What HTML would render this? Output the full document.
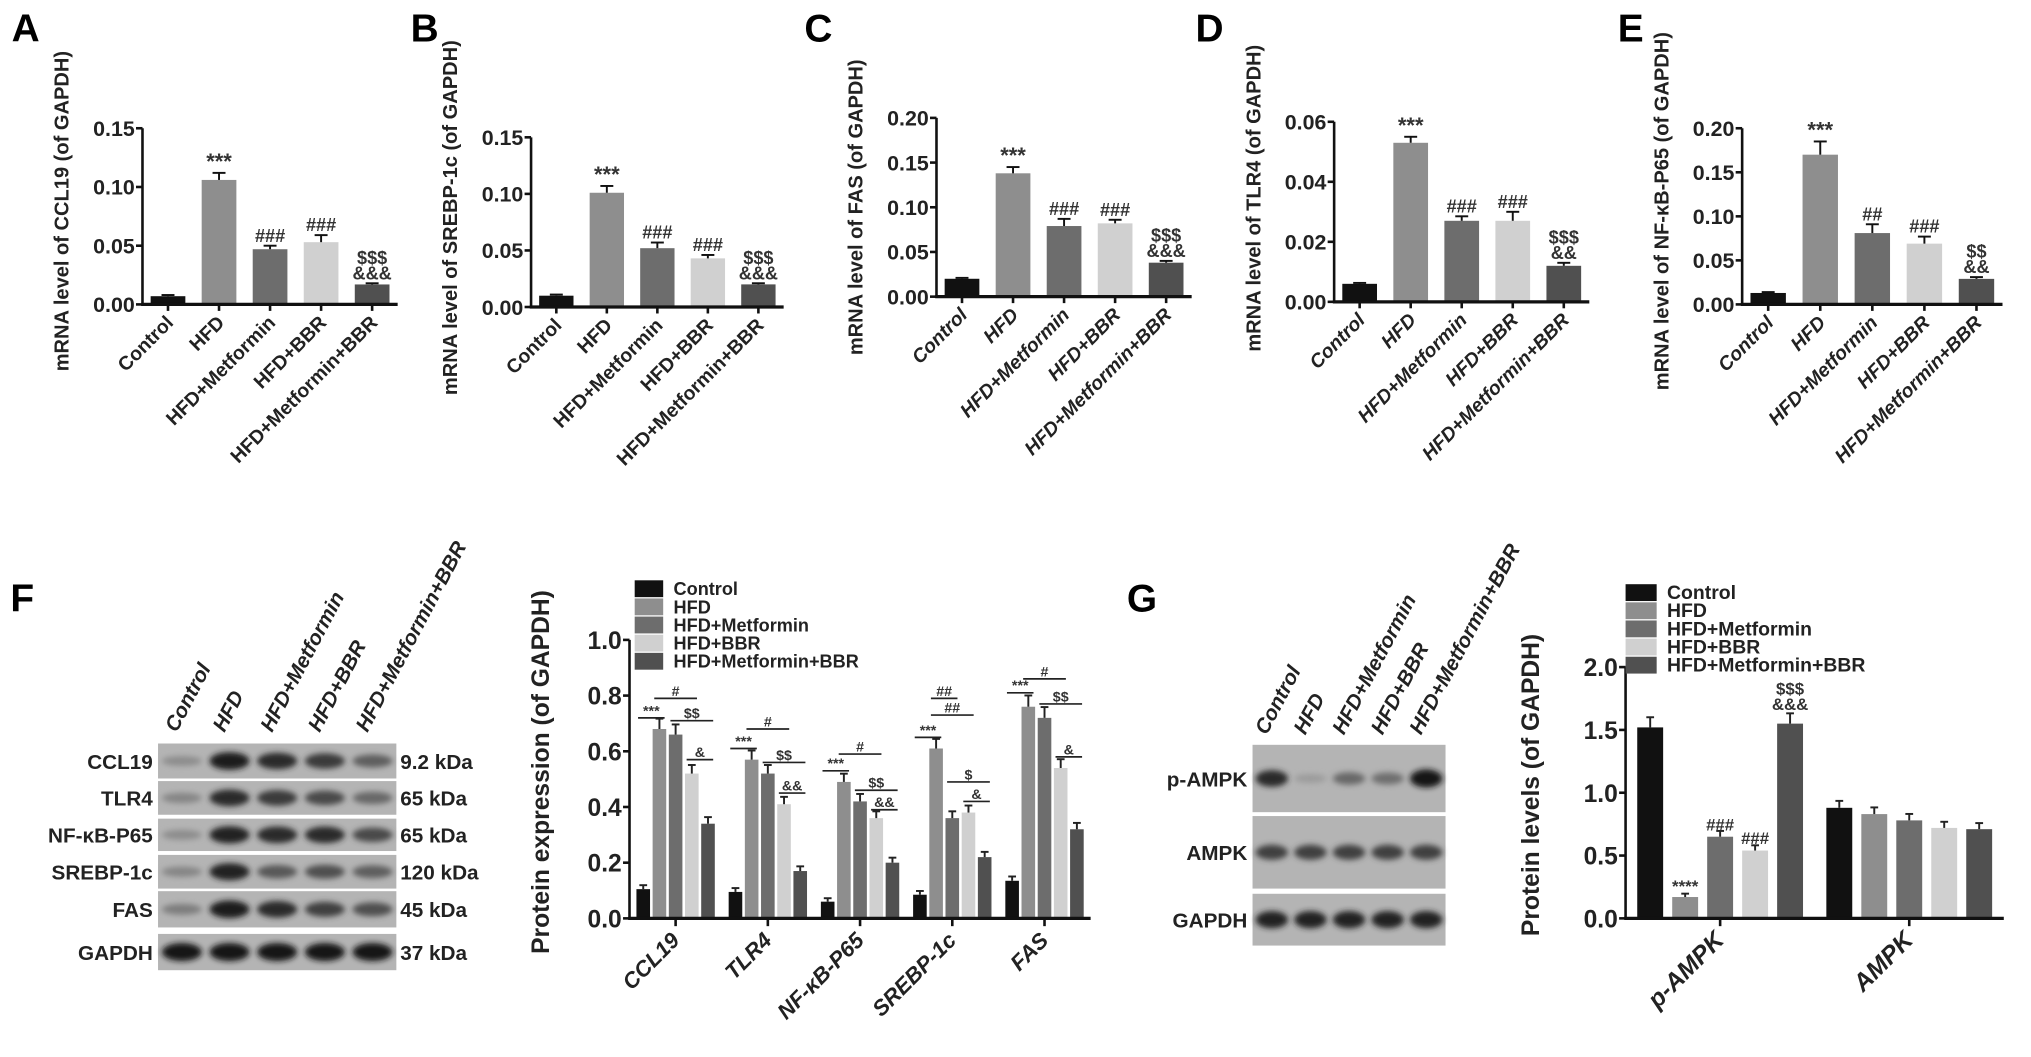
<!DOCTYPE html>
<html><head><meta charset="utf-8"><style>
html,body{margin:0;padding:0;background:#fff;}
svg{display:block;font-family:"Liberation Sans",Arial,sans-serif;font-weight:bold;}
</style></head><body>
<svg id="fig" width="2031" height="1057" viewBox="0 0 1568 816" xmlns="http://www.w3.org/2000/svg">
<defs><filter id="blur" x="-30%" y="-80%" width="160%" height="260%"><feGaussianBlur stdDeviation="2.2"/></filter></defs>
</svg>
<script>
const groups = ["Control","HFD","HFD+Metformin","HFD+BBR","HFD+Metformin+BBR"];
const colors = ["#111111","#8e8e8e","#6d6d6d","#d0d0d0","#505050"];
const valsA = [0.007,0.106,0.047,0.053,0.017];
const errA  = [0.001,0.006,0.003,0.006,0.001];
const valsB = [0.010,0.101,0.052,0.043,0.020];
const errB  = [0.001,0.006,0.005,0.003,0.001];
const valsC = [0.020,0.138,0.079,0.082,0.038];
const errC  = [0.001,0.007,0.008,0.004,0.002];
const valsD = [0.006,0.053,0.027,0.027,0.012];
const errD  = [0.0003,0.002,0.0015,0.003,0.001];
const valsE = [0.013,0.170,0.081,0.069,0.029];
const errE  = [0.001,0.015,0.010,0.008,0.002];
const annA = ["","***","###","###","$$$\n&&&"];
const annB = ["","***","###","###","$$$\n&&&"];
const annC = ["","***","###","###","$$$\n&&&"];
const annD = ["","***","###","###","$$$\n&&"];
const annE = ["","***","##","###","$$\n&&"];
const ticksA = [0,0.05,0.10,0.15];
const ticksB = [0,0.05,0.10,0.15];
const ticksC = [0,0.05,0.10,0.15,0.20];
const ticksD = [0,0.02,0.04,0.06];
const ticksE = [0,0.05,0.10,0.15,0.20];
const catsF = ["CCL19","TLR4","NF-\u03BAB-P65","SREBP-1c","FAS"];
const fControl = [0.105,0.095,0.060,0.085,0.135];
const fHFD     = [0.68,0.57,0.49,0.61,0.76];
const fMet     = [0.66,0.52,0.42,0.36,0.72];
const fBBR     = [0.52,0.41,0.36,0.38,0.54];
const fCombo   = [0.34,0.17,0.20,0.22,0.32];
const ticksF = [0,0.2,0.4,0.6,0.8,1.0];
const catsG = ["p-AMPK","AMPK"];
const gControl = [1.52,0.88];
const gHFD     = [0.17,0.83];
const gMet     = [0.65,0.78];
const gBBR     = [0.54,0.72];
const gCombo   = [1.55,0.71];
const ticksG = [0,0.5,1.0,1.5,2.0];

const svg = document.getElementById('fig');
const NS = "http://www.w3.org/2000/svg";
function mk(tag, attrs, parent){
  const e = document.createElementNS(NS, tag);
  for (const k in attrs) e.setAttribute(k, attrs[k]);
  (parent||svg).appendChild(e);
  return e;
}
function txt(s, x, y, size, anchor, parent, extra){
  const t = mk('text', Object.assign({x:x, y:y, 'font-size':size, 'text-anchor':anchor||'start'}, extra||{}), parent);
  t.textContent = s;
  return t;
}

function mrnaPanel(id, letter, lx, x0, x1, y0, ymax, ytopPx, ticks, vals, errs, anns, title, titleY, italic){
  const g = mk('g', {});
  
  
  const L = txt(letter, lx, 32, 30, 'start', g);
  
  
  const ys = v => y0 - (v / ymax) * (y0 - ytopPx);
  const n = vals.length, sp = (x1 - x0) / n, bw = sp * 0.68;
  for (let i = 0; i < n; i++){
    const cx = x0 + sp * (i + 0.5);
    const b = mk('rect', {x: cx - bw/2, y: ys(vals[i]), width: bw, height: y0 - ys(vals[i]), fill: colors[i]}, g);
    
    
    const et = ys(vals[i] + errs[i]);
    mk('line', {x1: cx, x2: cx, y1: ys(vals[i]), y2: et, stroke: '#111', 'stroke-width': 1.5}, g);
    mk('line', {x1: cx - 5, x2: cx + 5, y1: et, y2: et, stroke: '#111', 'stroke-width': 1.5}, g);
    if (anns[i]){
      const lines = anns[i].split('\n');
      lines.forEach((s, k) => {
        const a = txt(s, cx, et - 3 - (lines.length - 1 - k) * 12, s[0]==='*' ? 17 : 14, 'middle', g, {fill:'#333'});
        
        
      });
    }
    mk('line', {x1: cx, x2: cx, y1: y0, y2: y0 + 5, stroke: '#111', 'stroke-width': 2}, g);
    const xl = txt(groups[i], cx + 5, y0 + 15, 15, 'end', g, {transform: 'rotate(-45 ' + (cx + 5) + ' ' + (y0 + 15) + ')', 'font-style': italic ? 'italic' : 'normal', fill:'#222'});
    
    
  }
  mk('line', {x1: x0, x2: x0, y1: ytopPx, y2: y0 + 1, stroke: '#111', 'stroke-width': 2}, g);
  mk('line', {x1: x0 - 1, x2: x1, y1: y0, y2: y0, stroke: '#111', 'stroke-width': 2.5}, g);
  ticks.forEach(t => {
    const y = ys(t);
    mk('line', {x1: x0 - 5, x2: x0, y1: y, y2: y, stroke: '#111', 'stroke-width': 2}, g);
    const tl = txt(t.toFixed(2), x0 - 6, y + 6, 16.5, 'end', g, {fill:'#222'});
    
    
  });
  const tx = x0 - 57;
  const yt = txt(title, tx, titleY, 15.5, 'middle', g, {transform: 'rotate(-90 ' + tx + ' ' + titleY + ')', fill:'#222'});
  
  
}

mrnaPanel('a','A',9,110,307,235,0.15,99,ticksA,valsA,errA,annA,'mRNA level of CCL19 (of GAPDH)',163,false);
mrnaPanel('b','B',317,410,605,237,0.15,106,ticksB,valsB,errB,annB,'mRNA level of SREBP-1c (of GAPDH)',168,false);
mrnaPanel('c','C',621,723,920,229,0.20,91,ticksC,valsC,errC,annC,'mRNA level of FAS (of GAPDH)',160,true);
mrnaPanel('d','D',923,1030,1227,233,0.06,94,ticksD,valsD,errD,annD,'mRNA level of TLR4 (of GAPDH)',153,true);
mrnaPanel('e','E',1249,1345,1546,235,0.20,99,ticksE,valsE,errE,annE,'mRNA level of NF-\u03BAB-P65 (of GAPDH)',163,true);

function groupedChart(id, x0, x1, y0, ymax, ytopPx, ticks, cats, series, bw, step, title, titleX, titleY, legX, legY, legStep, legSw, legFont, xlabFont){
  const g = mk('g', {});
  
  
  const ys = v => y0 - (v / ymax) * (y0 - ytopPx);
  const n = cats.length, sp = (x1 - x0) / n;
  for (let c = 0; c < n; c++){
    const gc = x0 + sp * (c + 0.5);
    for (let s = 0; s < series.length; s++){
      const cx = gc + (s - 2) * step;
      const v = series[s][c];
      const b = mk('rect', {x: cx - bw/2, y: ys(v), width: bw, height: y0 - ys(v), fill: colors[s]}, g);
      
      
      const et = ys(v * 1.04 + 0.01 * ymax);
      mk('line', {x1: cx, x2: cx, y1: ys(v), y2: et, stroke: '#222', 'stroke-width': 1.5}, g);
      mk('line', {x1: cx - 3, x2: cx + 3, y1: et, y2: et, stroke: '#222', 'stroke-width': 1.5}, g);
    }
    mk('line', {x1: gc, x2: gc, y1: y0, y2: y0 + 6, stroke: '#111', 'stroke-width': 2}, g);
    const xl = txt(cats[c], gc + 4, y0 + 18, xlabFont, 'end', g, {transform: 'rotate(-45 ' + (gc + 4) + ' ' + (y0 + 18) + ')', 'font-style': 'italic', fill:'#222'});
    
    
  }
  mk('line', {x1: x0, x2: x0, y1: ytopPx, y2: y0 + 1, stroke: '#111', 'stroke-width': 2}, g);
  mk('line', {x1: x0 - 1, x2: x1, y1: y0, y2: y0, stroke: '#111', 'stroke-width': 2.5}, g);
  ticks.forEach(t => {
    const y = ys(t);
    mk('line', {x1: x0 - 5, x2: x0, y1: y, y2: y, stroke: '#111', 'stroke-width': 2}, g);
    const tl = txt(t.toFixed(1), x0 - 6, y + 7, 19, 'end', g, {fill:'#222'});
    
    
  });
  const yt = txt(title, titleX, titleY, 19, 'middle', g, {transform: 'rotate(-90 ' + titleX + ' ' + titleY + ')', fill:'#222'});
  
  
  const lg = mk('g', {}, g);
  
  
  groups.forEach((name, i) => {
    const y = legY + i * legStep;
    const sw = mk('rect', {x: legX, y: y, width: legSw, height: legStep - 1, fill: colors[i]}, lg);
    
    
    const lt = txt(name, legX + legSw + 8, y + legStep - 2.5, legFont, 'start', lg, {fill:'#222'});
    
    
  });
  return {g, ys, sp};
}

const F = groupedChart('f', 486, 842, 709, 1.0, 494, ticksF, catsF, [fControl,fHFD,fMet,fBBR,fCombo], 10.5, 12.5, 'Protein expression (of GAPDH)', 424, 596, 490, 448, 14, 22, 14, 17);
const fSig = [["***",0,1,0.72],["#",1,3,0.79],["$$",2,4,0.71],["&",3,4,0.57],
              ["***",0,1,0.61],["#",1,3,0.68],["$$",2,4,0.56],["&&",3,4,0.45],
              ["***",0,1,0.53],["#",1,3,0.59],["$$",2,4,0.46],["&&",3,4,0.39],
              ["***",0,1,0.65],["##",1,3,0.73],["##",1,2,0.79],["$",2,4,0.49],["&",3,4,0.42],
              ["***",0,1,0.81],["#",1,3,0.86],["$$",2,4,0.77],["&",3,4,0.58]];
const fSigGroup = [0,0,0,0,1,1,1,1,2,2,2,2,3,3,3,3,3,4,4,4,4];
fSig.forEach((s, k) => {
  const gc = 486 + F.sp * (fSigGroup[k] + 0.5);
  const xa = gc + (s[1] - 2) * 12.5 - 4, xb = gc + (s[2] - 2) * 12.5 + 4;
  const y = F.ys(s[3]);
  mk('line', {x1: xa, x2: xb, y1: y, y2: y, stroke: '#222', 'stroke-width': 1.3}, F.g);
  const t = txt(s[0], (xa + xb) / 2, y - 2, 11, 'middle', F.g, {fill:'#333'});
  
  
});

const G = groupedChart('g', 1255, 1547, 709, 2.0, 515, ticksG, catsG, [gControl,gHFD,gMet,gBBR,gCombo], 20, 27, 'Protein levels (of GAPDH)', 1188, 606, 1255, 451, 14, 24, 15, 19);
const gSig = [["****",1,0,0.21],["###",2,0,0.70],["###",3,0,0.59],["$$$",4,0,1.78],["&&&",4,0,1.66]];
gSig.forEach(s => {
  const gc = 1255 + G.sp * (s[2] + 0.5);
  const cx = gc + (s[1] - 2) * 27;
  const t = txt(s[0], cx, G.ys(s[3]), 13, 'middle', G.g, {fill:'#333'});
  
  
});

const lf = txt('F', 8, 472, 30, 'start');


const lgG = txt('G', 870, 472, 30, 'start');



function blot(id, x0, x1, rows, lanes, labelX, kdaX, laneLabelY){
  const g = mk('g', {});
  
  
  const lw = (x1 - x0) / lanes.length;
  lanes.forEach((name, i) => {
    const cx = x0 + lw * (i + 0.5);
    const t = txt(name, cx - 4, laneLabelY, 16, 'start', g, {transform: 'rotate(-62 ' + (cx - 4) + ' ' + laneLabelY + ')', 'font-style':'italic', fill:'#222'});
    
    
  });
  rows.forEach(r => {
    const [name, top, bot, kda, intens] = r;
    const bg = mk('rect', {x: x0, y: top, width: x1 - x0, height: bot - top, fill: '#b4b4b4'}, g);
    
    
    const cy = (top + bot) / 2;
    intens.forEach((v, i) => {
      const cx = x0 + lw * (i + 0.5);
      const c = Math.round(170 - v * 150);
      mk('ellipse', {cx: cx, cy: cy, rx: lw * 0.42, ry: 3 + v * 4, fill: 'rgb(' + c + ',' + c + ',' + c + ')', filter: 'url(#blur)'}, g);
    });
    const lt = txt(name, labelX, cy + 6, 16, 'end', g, {fill:'#222'});
    
    
    if (kda){
      const kt = txt(kda, kdaX, cy + 6, 16, 'start', g, {fill:'#222'});
      
      
    }
  });
}
blot('f', 122, 306, [
  ['CCL19', 574, 601, '9.2 kDa', [0.2,0.95,0.85,0.75,0.5]],
  ['TLR4', 603, 629, '65 kDa', [0.25,0.85,0.75,0.65,0.45]],
  ['NF-\u03BAB-P65', 632, 657, '65 kDa', [0.2,0.9,0.85,0.85,0.65]],
  ['SREBP-1c', 660, 686, '120 kDa', [0.25,0.9,0.55,0.6,0.5]],
  ['FAS', 688, 716, '45 kDa', [0.3,0.95,0.85,0.7,0.6]],
  ['GAPDH', 721, 749, '37 kDa', [1,1,1,1,1]]
], groups, 118, 309, 566);
blot('g', 967, 1116, [
  ['p-AMPK', 575, 627, '', [0.85,0.1,0.45,0.4,1]],
  ['AMPK', 630, 686, '', [0.7,0.7,0.7,0.7,0.7]],
  ['GAPDH', 690, 730, '', [0.9,0.9,0.9,0.9,0.9]]
], groups, 963, 0, 568);
</script>
</body></html>
